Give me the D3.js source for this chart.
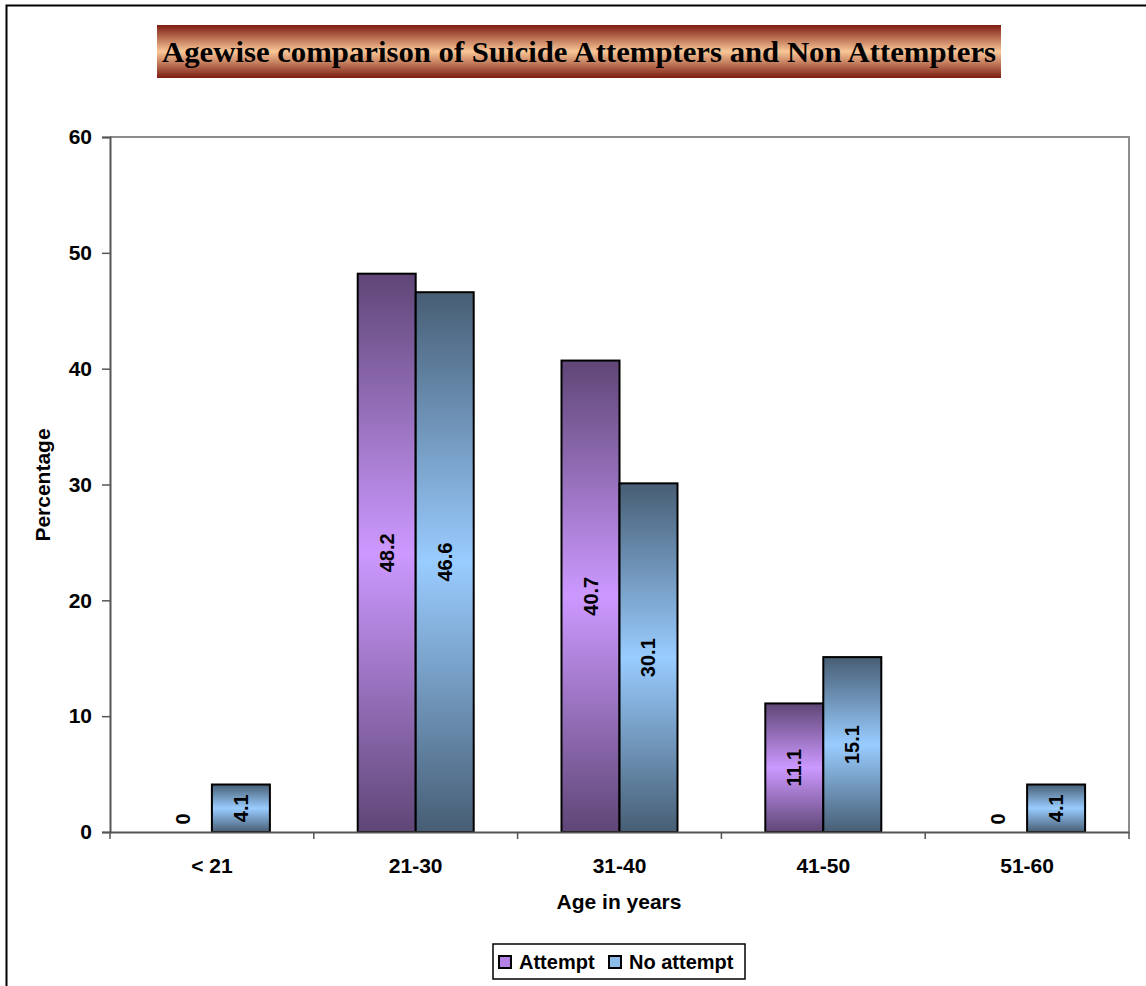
<!DOCTYPE html>
<html><head><meta charset="utf-8">
<script src="https://cdn.jsdelivr.net/npm/d3@7"></script>
<style>html,body{margin:0;padding:0;background:#fff;}svg{display:block;}</style>
</head><body>
<svg id="c" width="1146" height="986"></svg>
<script>
const categories = ["< 21", "21-30", "31-40", "41-50", "51-60"];
const seriesNames = ["Attempt", "No attempt"];
const attempt = [0, 48.2, 40.7, 11.1, 0];
const noAttempt = [4.1, 46.6, 30.1, 15.1, 4.1];
const yTicks = [0, 10, 20, 30, 40, 50, 60];
const titleText = "Agewise comparison of Suicide Attempters and Non Attempters";
const xTitle = "Age in years";
const yTitle = "Percentage";

const FONT = "Liberation Sans, Arial, sans-serif";
const svg = d3.select("#c");
const defs = svg.append("defs");
function vgrad(id, dark, light) {
  const g = defs.append("linearGradient").attr("id", id).attr("x1", 0).attr("y1", 0).attr("x2", 0).attr("y2", 1);
  g.append("stop").attr("offset", "0%").attr("stop-color", dark);
  g.append("stop").attr("offset", "50%").attr("stop-color", light);
  g.append("stop").attr("offset", "100%").attr("stop-color", dark);
}
vgrad("gA", "#5f4676", "#cc99ff");
vgrad("gN", "#475e74", "#99ccff");
vgrad("gT", "#7d1c12", "#f9c797");
const colors = ["url(#gA)", "url(#gN)"];
const legendColors = ["#b681e6", "#8cbce8"];

// outer frame
svg.append("rect").attr("x", 6.5).attr("y", 5.5).attr("width", 1160).attr("height", 1000)
  .attr("fill", "none").attr("stroke", "#000").attr("stroke-width", 2);

const m = {left: 110, top: 137, right: 1129, bottom: 832};
const x0 = d3.scaleBand().domain(categories).range([m.left, m.right]).paddingInner(0).paddingOuter(0);
const x1 = d3.scaleBand().domain(seriesNames).range([0, x0.bandwidth()]).paddingInner(0).paddingOuter(0.757);
const y = d3.scaleLinear().domain([0, 60]).range([m.bottom, m.top]);

// plot area border (top/right)
svg.append("path").attr("d", `M${m.left},${m.top}H${m.right}V${m.bottom}`)
  .attr("fill", "none").attr("stroke", "#8c8c8c").attr("stroke-width", 2);

// title
const tw = 844, th = 53, tx = 157, ty = 25;
svg.append("rect").attr("x", tx).attr("y", ty).attr("width", tw).attr("height", th).attr("fill", "url(#gT)");
svg.append("text").attr("x", tx + tw / 2).attr("y", ty + 37).attr("text-anchor", "middle")
  .attr("font-family", "Liberation Serif, Times New Roman, serif").attr("font-weight", "bold")
  .attr("font-size", 30).attr("textLength", 834).attr("lengthAdjust", "spacingAndGlyphs").attr("fill", "#000").text(titleText);

const data = categories.map((c, i) => ({cat: c, vals: [attempt[i], noAttempt[i]]}));
const groups = svg.append("g").selectAll("g").data(data).join("g")
  .attr("transform", d => `translate(${x0(d.cat)},0)`);
groups.selectAll("rect").data(d => d.vals.map((v, j) => ({v, s: seriesNames[j], j}))).join("rect")
  .filter(d => d.v > 0)
  .attr("x", d => x1(d.s)).attr("y", d => y(d.v)).attr("width", x1.bandwidth()).attr("height", d => y(0) - y(d.v))
  .attr("fill", d => colors[d.j]).attr("stroke", "#000").attr("stroke-width", 2);
groups.selectAll("text.lbl").data(d => d.vals.map((v, j) => ({v, s: seriesNames[j], j}))).join("text")
  .attr("class", "lbl")
  .attr("transform", d => {
    const cx = x1(d.s) + x1.bandwidth() / 2;
    const cy = d.v > 0 ? (y(0) + y(d.v)) / 2 : y(0) - 13;
    return `translate(${cx + 7},${cy}) rotate(-90)`;
  })
  .attr("text-anchor", "middle")
  .attr("font-family", FONT).attr("font-weight", "bold").attr("font-size", 20)
  .attr("fill", "#000").text(d => d.v);

// axes
const yAxis = svg.append("g").attr("transform", `translate(${m.left},0)`)
  .call(d3.axisLeft(y).tickValues(yTicks).tickSize(8).tickPadding(10).tickFormat(d3.format("d")));
yAxis.select(".domain").attr("stroke", "#555").attr("stroke-width", 2);
yAxis.selectAll(".tick line").attr("stroke", "#555").attr("stroke-width", 1.5);
yAxis.selectAll(".tick text").attr("font-family", FONT).attr("font-weight", "bold")
  .attr("font-size", 21).attr("fill", "#000");

const xAxis = svg.append("g").attr("transform", `translate(0,${m.bottom})`)
  .call(d3.axisBottom(x0).tickSize(0).tickPadding(26));
xAxis.select(".domain").attr("stroke", "#555").attr("stroke-width", 2);
xAxis.selectAll(".tick text").attr("font-family", FONT).attr("font-weight", "bold")
  .attr("font-size", 21).attr("fill", "#000");
// category boundary ticks
xAxis.selectAll("line.bt").data(categories.concat(["end"])).join("line").attr("class", "bt")
  .attr("x1", (d, i) => i < categories.length ? x0(d) : m.right)
  .attr("x2", (d, i) => i < categories.length ? x0(d) : m.right)
  .attr("y1", 0).attr("y2", 7).attr("stroke", "#555").attr("stroke-width", 1.5);

// axis titles
svg.append("text").attr("x", 619).attr("y", 909).attr("text-anchor", "middle")
  .attr("font-family", FONT).attr("font-weight", "bold").attr("font-size", 21).text(xTitle);
svg.append("text").attr("transform", "translate(50,485) rotate(-90)").attr("text-anchor", "middle")
  .attr("font-family", FONT).attr("font-weight", "bold").attr("font-size", 21).text(yTitle);

// legend
const lg = svg.append("g").attr("transform", "translate(493,944)");
lg.append("rect").attr("x", 0).attr("y", 0).attr("width", 252).attr("height", 35).attr("fill", "#fff").attr("stroke", "#000").attr("stroke-width", 1.5);
const legX = [6, 116];
seriesNames.forEach((s, i) => {
  lg.append("rect").attr("x", legX[i]).attr("y", 12).attr("width", 12).attr("height", 12)
    .attr("fill", legendColors[i]).attr("stroke", "#000").attr("stroke-width", 2);
  lg.append("text").attr("x", legX[i] + 20).attr("y", 25)
    .attr("font-family", FONT).attr("font-weight", "bold").attr("font-size", 20).text(s);
});
</script>
</body></html>
